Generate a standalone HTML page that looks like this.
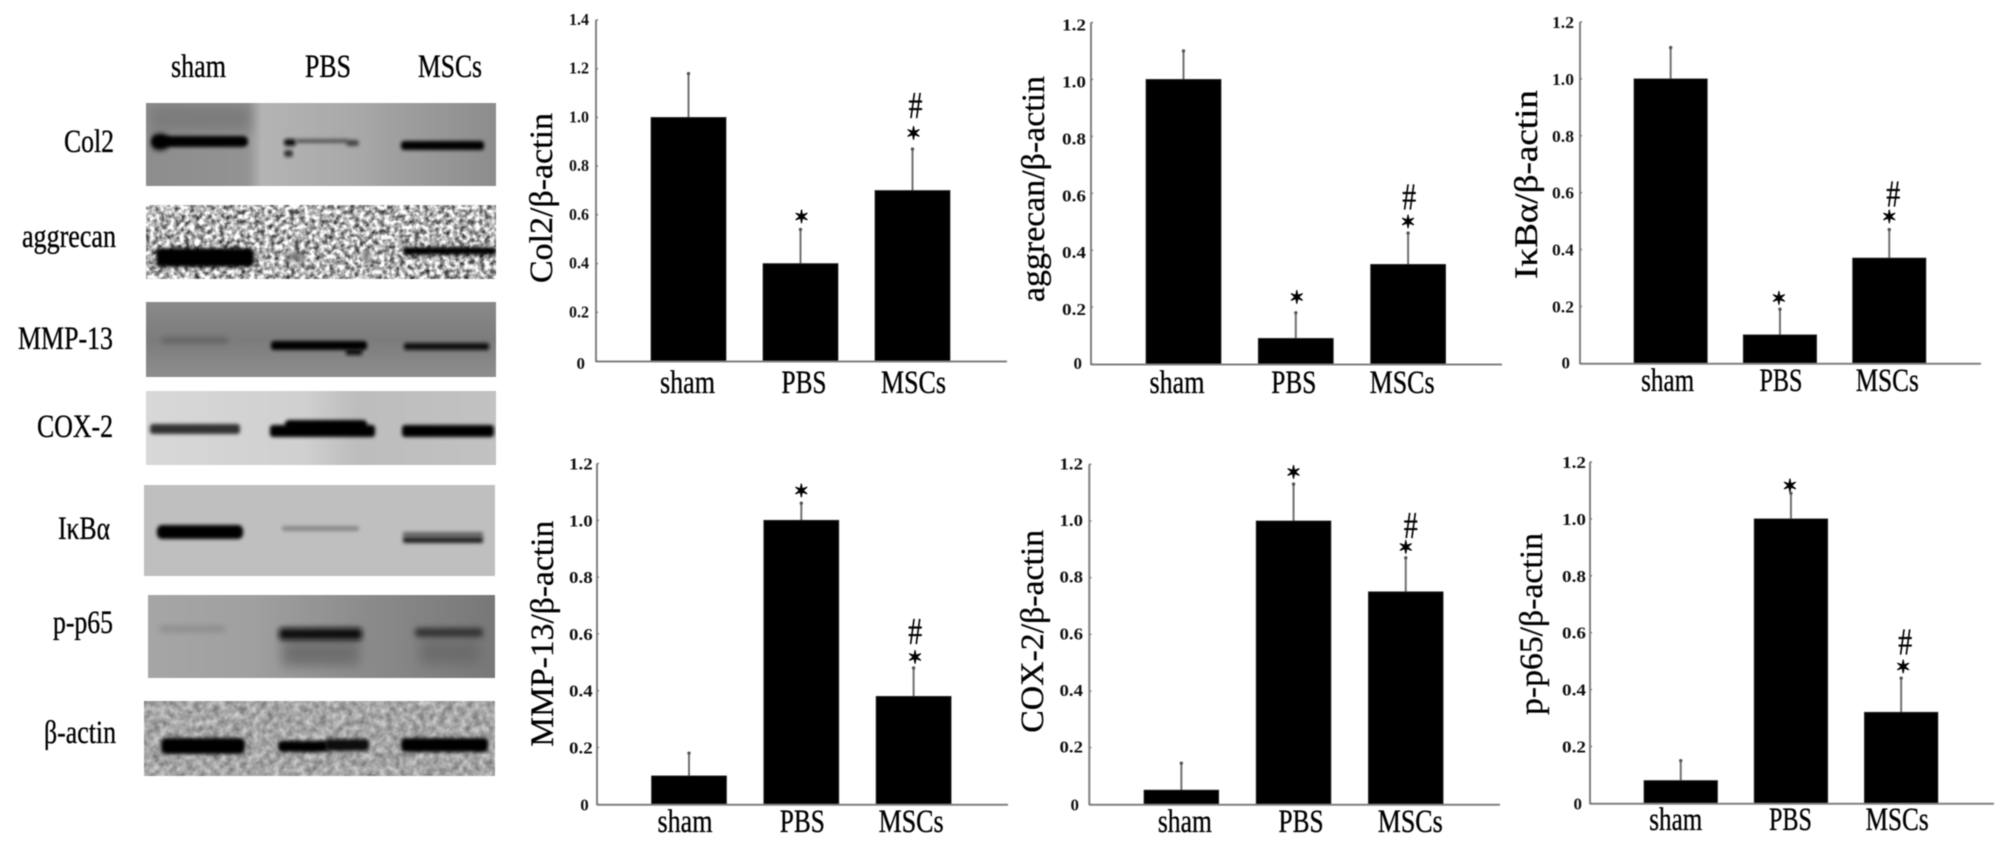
<!DOCTYPE html>
<html lang="en">
<head>
<meta charset="utf-8">
<title>Western blots and densitometry bar charts</title>
<style>
html,body{margin:0;padding:0;background:#fff;width:2008px;height:845px;overflow:hidden}
svg{display:block;filter:blur(.45px)}
text{font-family:"Liberation Serif","DejaVu Serif",serif;fill:#000}
.blot-label{font-size:33px;stroke:#000;stroke-width:.35px}
.tick{font-size:17px;font-weight:bold;fill:#111}
.cat{font-size:33px;stroke:#000;stroke-width:.35px}
.ytitle{font-size:33px;stroke:#000;stroke-width:.3px}
.star{font-family:"DejaVu Sans",sans-serif;font-size:18px;stroke:#000;stroke-width:1px}
.hash{font-size:38px;stroke:#000;stroke-width:.3px}
</style>
</head>
<body>
<svg id="figure" width="2008" height="845" viewBox="0 0 2008 845" xmlns="http://www.w3.org/2000/svg">
<defs>
  <filter id="b1" x="-20%" y="-150%" width="140%" height="400%"><feGaussianBlur stdDeviation="1.9"/></filter>
  <filter id="b2" x="-20%" y="-150%" width="140%" height="400%"><feGaussianBlur stdDeviation="3"/></filter>
  <filter id="b3" x="-30%" y="-60%" width="160%" height="220%"><feGaussianBlur stdDeviation="6"/></filter>
  <filter id="noise-a" x="0" y="0" width="100%" height="100%" color-interpolation-filters="sRGB">
    <feTurbulence type="fractalNoise" baseFrequency="0.2" numOctaves="2" seed="4"/>
    <feColorMatrix values="1.6 0 0 0 -0.1  1.6 0 0 0 -0.1  1.6 0 0 0 -0.1  0 0 0 0 1"/>
  </filter>
  <filter id="noise-b" x="0" y="0" width="100%" height="100%" color-interpolation-filters="sRGB">
    <feTurbulence type="fractalNoise" baseFrequency="0.15" numOctaves="2" seed="9"/>
    <feColorMatrix values="0.5 0 0 0 0.4  0.5 0 0 0 0.4  0.5 0 0 0 0.4  0 0 0 0 1"/>
  </filter>
  <linearGradient id="g-col2" x1="0" y1="0" x2="1" y2="0">
    <stop offset="0" stop-color="#8d8d8d"/><stop offset=".29" stop-color="#939393"/><stop offset=".33" stop-color="#b4b4b4"/><stop offset=".62" stop-color="#a8a8a8"/><stop offset=".68" stop-color="#a2a2a2"/><stop offset="1" stop-color="#8c8c8c"/>
  </linearGradient>
  <linearGradient id="g-mmp" x1="0" y1="0" x2="0" y2="1">
    <stop offset="0" stop-color="#8a8a8a"/><stop offset=".5" stop-color="#7c7c7c"/><stop offset="1" stop-color="#8e8e8e"/>
  </linearGradient>
  <linearGradient id="g-cox" x1="0" y1="0" x2="1" y2="0">
    <stop offset="0" stop-color="#d8d8d8"/><stop offset=".45" stop-color="#d0d0d0"/><stop offset=".6" stop-color="#bdbdbd"/><stop offset="1" stop-color="#c2c2c2"/>
  </linearGradient>
  <linearGradient id="g-p65" x1="0" y1="0" x2="1" y2="0">
    <stop offset="0" stop-color="#a6a6a6"/><stop offset=".3" stop-color="#a0a0a0"/><stop offset=".65" stop-color="#8a8a8a"/><stop offset="1" stop-color="#787878"/>
  </linearGradient>
  <clipPath id="c-col2"><rect x="146" y="103" width="350" height="83"/></clipPath>
  <clipPath id="c-agg"><rect x="146" y="205" width="350" height="74"/></clipPath>
  <clipPath id="c-mmp"><rect x="146" y="302" width="350" height="75"/></clipPath>
  <clipPath id="c-cox"><rect x="146" y="391" width="350" height="74"/></clipPath>
  <clipPath id="c-ikb"><rect x="144" y="485" width="351" height="91"/></clipPath>
  <clipPath id="c-p65"><rect x="148" y="595" width="347" height="83"/></clipPath>
  <clipPath id="c-act"><rect x="144" y="701" width="351" height="75"/></clipPath>
</defs>

<g>
  <g>
    <text class="blot-label" x="171" y="77" textLength="55" lengthAdjust="spacingAndGlyphs">sham</text>
    <text class="blot-label" x="305" y="77" textLength="46" lengthAdjust="spacingAndGlyphs">PBS</text>
    <text class="blot-label" x="418" y="77" textLength="64" lengthAdjust="spacingAndGlyphs">MSCs</text>
  </g>
  <g>
    <text class="blot-label" x="64" y="152" textLength="50" lengthAdjust="spacingAndGlyphs">Col2</text>
    <text class="blot-label" x="22" y="247" textLength="94" lengthAdjust="spacingAndGlyphs">aggrecan</text>
    <text class="blot-label" x="18" y="349" textLength="95" lengthAdjust="spacingAndGlyphs">MMP-13</text>
    <text class="blot-label" x="37" y="437" textLength="76" lengthAdjust="spacingAndGlyphs">COX-2</text>
    <text class="blot-label" x="58" y="539" textLength="52" lengthAdjust="spacingAndGlyphs">IκBα</text>
    <text class="blot-label" x="53" y="633" textLength="60" lengthAdjust="spacingAndGlyphs">p-p65</text>
    <text class="blot-label" x="44" y="743" textLength="72" lengthAdjust="spacingAndGlyphs">β-actin</text>
  </g>

  <g clip-path="url(#c-col2)">
    <rect x="146" y="103" width="350" height="83" fill="url(#g-col2)"/>
    <rect x="150" y="105" width="100" height="26" fill="#7c7c7c" filter="url(#b3)"/>
    <rect x="152" y="136" width="96" height="11" rx="5" fill="#000" filter="url(#b1)"/>
    <rect x="152" y="134" width="16" height="16" rx="6" fill="#000" filter="url(#b2)"/>
    <rect x="284" y="139" width="12" height="7" rx="3" fill="#111" filter="url(#b1)"/>
    <rect x="284" y="150" width="9" height="7" rx="3" fill="#333" filter="url(#b1)"/>
    <rect x="296" y="139" width="52" height="4" fill="#555" filter="url(#b1)"/>
    <rect x="346" y="140" width="13" height="6" rx="3" fill="#444" filter="url(#b1)"/>
    <rect x="401" y="141" width="83" height="9" rx="3" fill="#000" filter="url(#b1)"/>
  </g>

  <g clip-path="url(#c-agg)">
    <rect x="146" y="205" width="350" height="74" filter="url(#noise-a)"/>
    <rect x="156" y="248" width="98" height="19" rx="4" fill="#000" filter="url(#b1)"/>
    <rect x="288" y="252" width="16" height="9" fill="#777" filter="url(#b2)"/>
    <rect x="362" y="252" width="10" height="8" fill="#888" filter="url(#b2)"/>
    <rect x="403" y="247" width="93" height="8" rx="2" fill="#000" filter="url(#b1)"/>
  </g>

  <g clip-path="url(#c-mmp)">
    <rect x="146" y="302" width="350" height="75" fill="url(#g-mmp)"/>
    <rect x="162" y="338" width="66" height="5" fill="#5e5e5e" filter="url(#b2)"/>
    <rect x="271" y="341" width="96" height="9" rx="3" fill="#000" filter="url(#b1)"/>
    <rect x="346" y="349" width="16" height="6" fill="#111" filter="url(#b1)"/>
    <rect x="404" y="343" width="85" height="7" rx="2" fill="#0e0e0e" filter="url(#b1)"/>
  </g>

  <g clip-path="url(#c-cox)">
    <rect x="146" y="391" width="350" height="74" fill="url(#g-cox)"/>
    <rect x="150" y="424" width="90" height="10" rx="3" fill="#333" filter="url(#b1)"/>
    <rect x="270" y="425" width="105" height="12" rx="3" fill="#000" filter="url(#b1)"/>
    <rect x="285" y="420" width="82" height="10" rx="4" fill="#000" filter="url(#b1)"/>
    <rect x="402" y="425" width="92" height="12" rx="3" fill="#000" filter="url(#b1)"/>
  </g>

  <g clip-path="url(#c-ikb)">
    <rect x="144" y="485" width="351" height="91" fill="#bfbfbf"/>
    <rect x="157" y="525" width="86" height="14" rx="5" fill="#000" filter="url(#b1)"/>
    <rect x="282" y="526" width="77" height="5" rx="2" fill="#888" filter="url(#b1)"/>
    <rect x="403" y="532" width="80" height="5" fill="#666" filter="url(#b1)"/>
    <rect x="403" y="537" width="80" height="6" rx="2" fill="#222" filter="url(#b1)"/>
  </g>

  <g clip-path="url(#c-p65)">
    <rect x="148" y="595" width="347" height="83" fill="url(#g-p65)"/>
    <rect x="160" y="626" width="65" height="6" fill="#8c8c8c" filter="url(#b2)"/>
    <rect x="282" y="640" width="78" height="26" fill="#6e6e6e" filter="url(#b3)"/>
    <rect x="279" y="628" width="83" height="12" rx="3" fill="#0a0a0a" filter="url(#b2)"/>
    <rect x="420" y="640" width="60" height="24" fill="#6c6c6c" filter="url(#b3)"/>
    <rect x="415" y="628" width="68" height="9" rx="3" fill="#333" filter="url(#b2)"/>
  </g>

  <g clip-path="url(#c-act)">
    <rect x="144" y="701" width="351" height="75" filter="url(#noise-b)"/>
    <rect x="161" y="738" width="84" height="16" rx="5" fill="#000" filter="url(#b1)"/>
    <rect x="278" y="741" width="50" height="11" rx="4" fill="#000" filter="url(#b1)"/>
    <rect x="325" y="739" width="44" height="12" rx="4" fill="#0a0a0a" filter="url(#b1)"/>
    <rect x="401" y="738" width="87" height="14" rx="4" fill="#000" filter="url(#b1)"/>
  </g>
</g>

<g id="charts"></g>
</svg>

<script>
const categories = ['sham', 'PBS', 'MSCs'];
const ticksTo14 = ['0', '0.2', '0.4', '0.6', '0.8', '1.0', '1.2', '1.4'];
const ticksTo12 = ['0', '0.2', '0.4', '0.6', '0.8', '1.0', '1.2'];

const col2Values = [1.0, 0.4, 0.7];
const col2Errors = [0.18, 0.14, 0.17];
const aggrecanValues = [1.0, 0.09, 0.35];
const aggrecanErrors = [0.10, 0.09, 0.11];
const ikbaValues = [1.0, 0.1, 0.37];
const ikbaErrors = [0.11, 0.09, 0.10];
const mmp13Values = [0.1, 1.0, 0.38];
const mmp13Errors = [0.08, 0.06, 0.10];
const cox2Values = [0.05, 1.0, 0.75];
const cox2Errors = [0.095, 0.13, 0.12];
const pp65Values = [0.08, 1.0, 0.32];
const pp65Errors = [0.07, 0.09, 0.12];

const col2Layout = {id:'col2', title:'Col2/β-actin', ticks:ticksTo14, values:col2Values, errors:col2Errors,
  axisX:596, axisTop:20, base:361, axisEnd:1007, barLeft:651, barW:75, barStep:112,
  labelRight:589, labelW:20, labelDy:5, zeroDy:8,
  titleX:552, titleMid:198, titleLen:170,
  catDx:[-1, 3.5, 1], catW:[55, 45, 65], catY:393,
  starPbs:{dx:1, gap:13}, starMsc:{dx:1, gap:16}, hash:{dx:3, gap:27}};
const aggrecanLayout = {id:'aggrecan', title:'aggrecan/β-actin', ticks:ticksTo12, values:aggrecanValues, errors:aggrecanErrors,
  axisX:1091, axisTop:22.5, base:364, axisEnd:1502, barLeft:1146, barW:75, barStep:112.3,
  labelRight:1086, labelW:24, labelDy:8, zeroDy:5,
  titleX:1044, titleMid:189, titleLen:226,
  catDx:[-6.5, -2, -6], catW:[55, 45, 65], catY:393,
  starPbs:{dx:1, gap:16}, starMsc:{dx:0, gap:11.5}, hash:{dx:1, gap:24}};
const ikbaLayout = {id:'ikba', title:'IκBα/β-actin', ticks:ticksTo12, values:ikbaValues, errors:ikbaErrors,
  axisX:1580, axisTop:22, base:363.3, axisEnd:1981, barLeft:1634, barW:73.3, barStep:109.3,
  labelRight:1574, labelW:22, labelDy:6, zeroDy:5,
  titleX:1537, titleMid:184.5, titleLen:189,
  catDx:[-3, 1, -2], catW:[53, 43, 63], catY:391,
  starPbs:{dx:-1, gap:11.5}, starMsc:{dx:0, gap:13}, hash:{dx:4, gap:22}};
const mmp13Layout = {id:'mmp13', title:'MMP-13/β-actin', ticks:ticksTo12, values:mmp13Values, errors:mmp13Errors,
  axisX:597, axisTop:463.5, base:804.3, axisEnd:1008, barLeft:651.5, barW:75, barStep:112.3,
  labelRight:592.7, labelW:23.7, labelDy:6, zeroDy:6,
  titleX:553, titleMid:633.7, titleLen:226,
  catDx:[-4, 1, -2.5], catW:[55, 45, 65], catY:832,
  starPbs:{dx:0, gap:13}, starMsc:{dx:1.5, gap:11}, hash:{dx:1.5, gap:25}};
const cox2Layout = {id:'cox2', title:'COX-2/β-actin', ticks:ticksTo12, values:cox2Values, errors:cox2Errors,
  axisX:1089.3, axisTop:464.3, base:804.3, axisEnd:1500, barLeft:1144, barW:74.7, barStep:112.2,
  labelRight:1083, labelW:23.5, labelDy:5, zeroDy:6,
  titleX:1043, titleMid:631.3, titleLen:203,
  catDx:[3.5, 7.5, 4.5], catW:[54, 45, 65], catY:832,
  starPbs:{dx:0, gap:12}, starMsc:{dx:0, gap:11}, hash:{dx:5, gap:21}};
const pp65Layout = {id:'pp65', title:'p-p65/β-actin', ticks:ticksTo12, values:pp65Values, errors:pp65Errors,
  axisX:1590, axisTop:462, base:803.3, axisEnd:1994, barLeft:1644, barW:73.5, barStep:110.2,
  labelRight:1586, labelW:24, labelDy:6, zeroDy:6,
  titleX:1542, titleMid:624, titleLen:182,
  catDx:[-5, -0.5, -4], catW:[53, 43, 63], catY:830,
  starPbs:{dx:-1, gap:8}, starMsc:{dx:2, gap:11.5}, hash:{dx:4, gap:24}};

const panels = [col2Layout, aggrecanLayout, ikbaLayout, mmp13Layout, cox2Layout, pp65Layout];
const SVG_NS = 'http://www.w3.org/2000/svg';

function make(parent, tag, attrs, text) {
  const el = document.createElementNS(SVG_NS, tag);
  for (const k in attrs) el.setAttribute(k, attrs[k]);
  if (text !== undefined) el.textContent = text;
  parent.appendChild(el);
  return el;
}

function drawChart(p, root) {
  const maxTick = parseFloat(p.ticks[p.ticks.length - 1]);
  const yScale = v => p.base - (v / maxTick) * (p.base - p.axisTop);
  const xLeft = i => p.barLeft + i * p.barStep;
  const xMid = i => xLeft(i) + p.barW / 2;

  const chart = make(root, 'g', {});
  
  

  const title = make(chart, 'text', {class:'ytitle', 'text-anchor':'middle', textLength:p.titleLen, lengthAdjust:'spacingAndGlyphs',
    transform:'translate(' + p.titleX + ',' + p.titleMid + ') rotate(-90)'}, p.title);
  
  

  p.ticks.forEach(t => {
    const v = parseFloat(t);
    const isZero = v === 0;
    const label = make(chart, 'text', {class:'tick', 'text-anchor':'end',
      x: isZero ? p.labelRight - 4 : p.labelRight,
      y: yScale(v) + (isZero ? p.zeroDy : p.labelDy)}, t);
    if (!isZero) {
      label.setAttribute('textLength', p.labelW);
      label.setAttribute('lengthAdjust', 'spacingAndGlyphs');
    }
    
    
    const tick = make(chart, 'line', {x1:p.axisX, x2:p.axisX + 2, y1:yScale(v), y2:yScale(v), stroke:'#777', 'stroke-width':1.5});
    
    
  });

  p.values.forEach((v, i) => {
    const top = v + p.errors[i];
    const err = make(chart, 'line', {x1:xMid(i), x2:xMid(i), y1:yScale(v), y2:yScale(top), stroke:'#707070', 'stroke-width':2});
    
    
    const cap = make(chart, 'circle', {cx:xMid(i), cy:yScale(top), r:1.7, fill:'#555'});
    
    
    const bar = make(chart, 'rect', {x:xLeft(i), y:yScale(v), width:p.barW, height:p.base - yScale(v), fill:'#000', stroke:'#333', 'stroke-width':0.8});
    
    

    const cat = make(chart, 'text', {class:'cat', 'text-anchor':'middle', x:xMid(i) + p.catDx[i], y:p.catY, textLength:p.catW[i], lengthAdjust:'spacingAndGlyphs'}, categories[i]);
    
    

    if (i > 0) {
      const cfg = i === 1 ? p.starPbs : p.starMsc;
      const starY = yScale(top) - cfg.gap;
      const star = make(chart, 'text', {class:'star', 'text-anchor':'middle', x:xMid(i) + cfg.dx, y:starY + 6.5}, '✶');
      
      
      if (i === 2) {
        const hash = make(chart, 'text', {class:'hash', 'text-anchor':'middle', x:xMid(i) + p.hash.dx, y:starY - p.hash.gap + 12, textLength:14, lengthAdjust:'spacingAndGlyphs'}, '#');
        
        
      }
    }
  });

  const yAxis = make(chart, 'line', {x1:p.axisX, x2:p.axisX, y1:p.axisTop, y2:p.base + 1, stroke:'#808080', 'stroke-width':2});
  
  
  const xAxis = make(chart, 'line', {x1:p.axisX, x2:p.axisEnd, y1:p.base + 0.5, y2:p.base + 0.5, stroke:'#808080', 'stroke-width':2});
  
  
}

const chartsRoot = document.getElementById('charts');
panels.forEach(p => drawChart(p, chartsRoot));
</script>
</body>
</html>
